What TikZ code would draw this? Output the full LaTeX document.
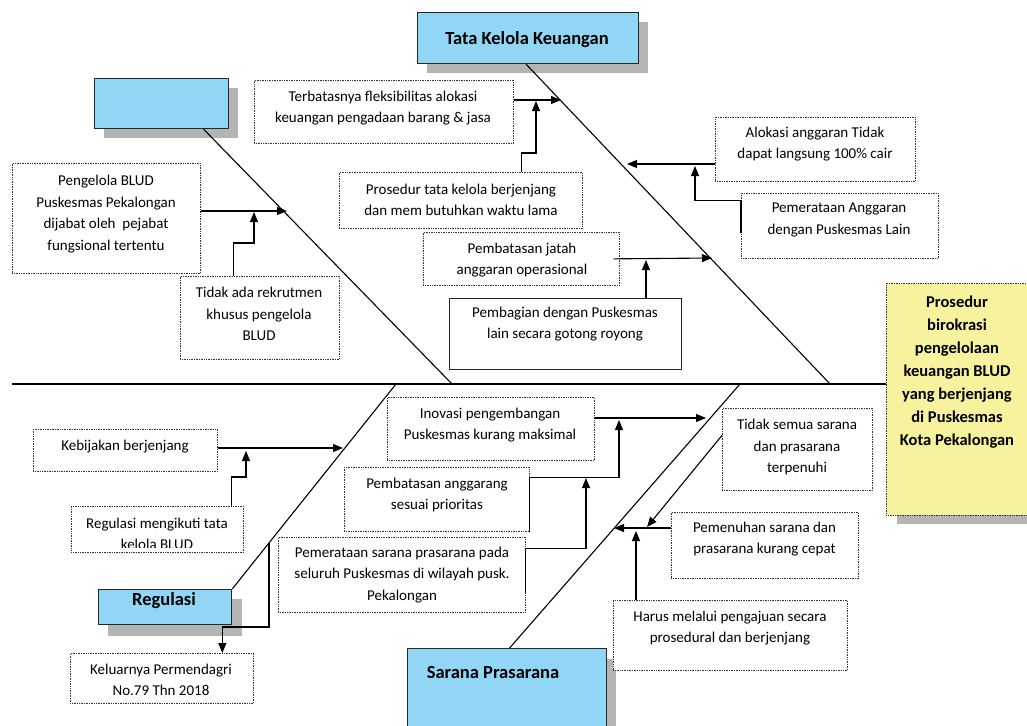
\documentclass[tikz,border=0pt]{standalone}
\usepackage{fontspec}
\setmainfont{Carlito}
\usetikzlibrary{arrows.meta,calc}
\definecolor{blu}{RGB}{146,214,245}
\definecolor{yelf}{RGB}{247,242,158}
\definecolor{shd}{RGB}{180,180,180}
\begin{document}
\begin{tikzpicture}[x=1pt,y=-1pt,
  dbox/.style={draw=black!80, densely dotted, line width=0.7pt, fill=white, inner sep=0pt, anchor=north west},
  sbox/.style={draw=black!85, line width=1pt, fill=white, inner sep=0pt, anchor=north west},
  hbox/.style={draw=black!85, line width=1.2pt, fill=blu, inner sep=0pt, anchor=north west},
  shadowbox/.style={fill=shd, draw=none, inner sep=0pt, anchor=north west},
  txt/.style={font=\fontsize{15}{21.5}\selectfont, align=center, inner sep=0pt},
  ytxt/.style={font=\fontsize{16.5}{23}\selectfont\bfseries, align=center, inner sep=0pt},
  ttl/.style={font=\fontsize{18.5}{22}\selectfont\bfseries, inner sep=0pt},
  bone/.style={line width=1.1pt},
  conn/.style={line width=1.1pt, -{Triangle[length=10pt,width=8pt]}}
]
\useasboundingbox (0,0) rectangle (1027,725);
\clip (0,0) rectangle (1027,725);
\fill[white] (0,0) rectangle (1027,725);

% ---------- head (yellow) ----------
\node[shadowbox, minimum width=150, minimum height=232] (ysh) at (897,292) {};
\node[dbox, fill=yelf, minimum width=150, minimum height=232] (yb) at (886,283) {};
\node[ytxt] (ybt) at (957,372) {Prosedur\\birokrasi\\pengelolaan\\keuangan BLUD\\yang berjenjang\\di Puskesmas\\Kota Pekalongan};

% ---------- spine ----------
\coordinate (spL) at (12,384);
\draw[line width=1.3pt] (spL) -- (yb.west |- spL);

% ---------- category boxes ----------
\node[shadowbox, minimum width=134, minimum height=50] (tlsh) at (104,88) {};
\node[hbox, minimum width=134, minimum height=50] (tlb) at (94,78) {};

\node[shadowbox, minimum width=221, minimum height=51] (tksh) at (427,22) {};
\node[hbox, minimum width=221, minimum height=51] (tk) at (417,12) {};
\node[ttl] (tkt) at (527,40) {Tata Kelola Keuangan};

\node[shadowbox, minimum width=134, minimum height=37] (rgsh) at (108,599) {};
\node[hbox, minimum width=133, minimum height=35] (rg) at (98,589) {};
\node[ttl] (rgt) at (164,601) {Regulasi};

\node[shadowbox, minimum width=199, minimum height=100] (srsh) at (417,659) {};
\node[hbox, minimum width=199, minimum height=100] (sr) at (407,648) {};
\node[ttl] (srt) at (493,672) {Sarana Prasarana};

% ---------- bones ----------
\coordinate (j1) at (452,384);
\coordinate (j2) at (830,384);
\coordinate (j3) at (396,384);
\coordinate (j4) at (740,384);
\draw[bone] ($(tlb.south)+(42,0)$) -- (j1);
\draw[bone] ($(tk.south)+(-2,0)$) -- (j2);
\draw[bone] (rg.north east) -- (j3);
\draw[bone] ($(sr.north)+(2.5,0)$) -- (j4);

% ---------- Tata Kelola Keuangan causes ----------
\node[dbox, minimum width=259, minimum height=63] (terb) at (254,80) {};
\node[txt] (terbt) at (383,108) {Terbatasnya fleksibilitas alokasi\\keuangan pengadaan barang \& jasa};

\node[dbox, minimum width=243, minimum height=56] (pros) at (339,172) {};
\node[txt] (prost) at (461,200) {Prosedur tata kelola berjenjang\\dan mem butuhkan waktu lama};

\node[dbox, minimum width=196, minimum height=53] (jat) at (423,232) {};
\node[txt] (jatt) at (522,260) {Pembatasan jatah\\anggaran operasional};

\node[sbox, minimum width=232, minimum height=71] (pemb) at (449,298) {};
\node[txt] (pembt) at (565,324) {Pembagian dengan Puskesmas\\lain secara gotong royong};

\node[dbox, minimum width=200, minimum height=64] (alok) at (715,117) {};
\node[txt] (alokt) at (815,144) {Alokasi anggaran Tidak\\dapat langsung 100\% cair};

\node[dbox, minimum width=197, minimum height=65] (pa) at (741,193) {};
\node[txt] (pat) at (839,220) {Pemerataan Anggaran\\dengan Puskesmas Lain};

\coordinate (tA) at (561,100);
\coordinate (tB) at (536,101);
\coordinate (tC) at (712,258);
\coordinate (tD) at (646,260);
\coordinate (tE) at (627,164);
\coordinate (tF) at (695,166);
\draw[conn] (terb.east |- tA) -- (tA);
\draw[conn] ($(pros.north)+(60.5,0)$) -- ++(0,-19) -| (tB);
\draw[conn] ($(jat.east)+(-6,0)$) -- (tC);
\draw[conn] (pemb.north -| tD) -- (tD);
\draw[conn] (alok.west |- tE) -- (tE);
\draw[conn] ($(pa.west)+(0,7.5)$) -- ++(0,-33) -| (tF);

% ---------- top-left causes ----------
\node[dbox, minimum width=188, minimum height=110] (peng) at (12,163) {};
\node[txt] (pengt) at (106,214) {Pengelola BLUD\\Puskesmas Pekalongan\\dijabat oleh\ \ pejabat\\fungsional tertentu};

\node[dbox, minimum width=159, minimum height=83] (tdk) at (180,276) {};
\node[txt] (tdkt) at (259,314) {Tidak ada rekrutmen\\khusus pengelola\\BLUD};

\coordinate (tG) at (287,211);
\coordinate (tH) at (254,212);
\draw[conn] (peng.east |- tG) -- (tG);
\draw[conn] ($(tdk.north)+(-26.5,0)$) -- ++(0,-33) -| (tH);

% ---------- Regulasi causes ----------
\node[dbox, minimum width=184, minimum height=42] (keb) at (33,429) {};
\node[txt] (kebt) at (125,447) {Kebijakan berjenjang};

\node[dbox, minimum width=172, minimum height=46] (regm) at (71,506) {};
\begin{scope}
\clip (71,507) rectangle (243,547);
\node[txt] (regmt) at (157,534) {Regulasi mengikuti tata\\kelola BLUD};
\end{scope}

\node[dbox, minimum width=183, minimum height=50] (kel) at (70,653) {};
\node[txt] (kelt) at (161,680) {Keluarnya Permendagri\\No.79 Thn 2018};

\coordinate (tI) at (343,448);
\coordinate (tJ) at (246,451);
\coordinate (rb) at (269,543);
\draw[conn] (keb.east |- tI) -- (tI);
\draw[conn] ($(regm.north)+(74,0)$) -- ++(0,-29) -| (tJ);
\draw[conn] (rb) -- ++(0,84) -| ($(kel.north)+(60.5,0)$);

% ---------- Sarana Prasarana causes ----------
\node[dbox, minimum width=207, minimum height=63] (inov) at (387,397) {};
\node[txt] (inovt) at (490,425) {Inovasi pengembangan\\Puskesmas kurang maksimal};

\node[dbox, minimum width=185, minimum height=64] (pang) at (344,467) {};
\node[txt] (pangt) at (437,495) {Pembatasan anggarang\\sesuai prioritas};

\node[dbox, minimum width=247, minimum height=75] (psar) at (278,537) {};
\node[txt] (psart) at (402,575) {Pemerataan sarana prasarana pada\\seluruh Puskesmas di wilayah pusk.\\Pekalongan};

\node[dbox, minimum width=150, minimum height=82] (tds) at (722,408) {};
\node[txt] (tdst) at (797,447) {Tidak semua sarana\\dan prasarana\\terpenuhi};

\node[dbox, minimum width=187, minimum height=66] (pmn) at (671,512) {};
\node[txt] (pmnt) at (764.5,539) {Pemenuhan sarana dan\\prasarana kurang cepat};

\node[dbox, minimum width=234, minimum height=70] (har) at (613,600) {};
\node[txt] (hart) at (730,628) {Harus melalui pengajuan secara\\prosedural dan berjenjang};

\coordinate (tL) at (706,418);
\coordinate (tM) at (619,420);
\coordinate (tN) at (586,478);
\coordinate (tO) at (647,527);
\coordinate (tP) at (614,528);
\coordinate (tQ) at (636,531);
\draw[conn] (inov.east |- tL) -- (tL);
\draw[conn] (pang.south east) -- ++(0,-54) -| (tM);
\draw[conn] ($(psar.south east)+(0,-20)$) -- ++(0,-44) -| (tN);
\draw[conn] ($(tds.west)+(0,-14)$) -- (tO);
\draw[conn] (pmn.west |- tP) -- (tP);
\draw[conn] (har.north -| tQ) -- (tQ);
\end{tikzpicture}
\end{document}
